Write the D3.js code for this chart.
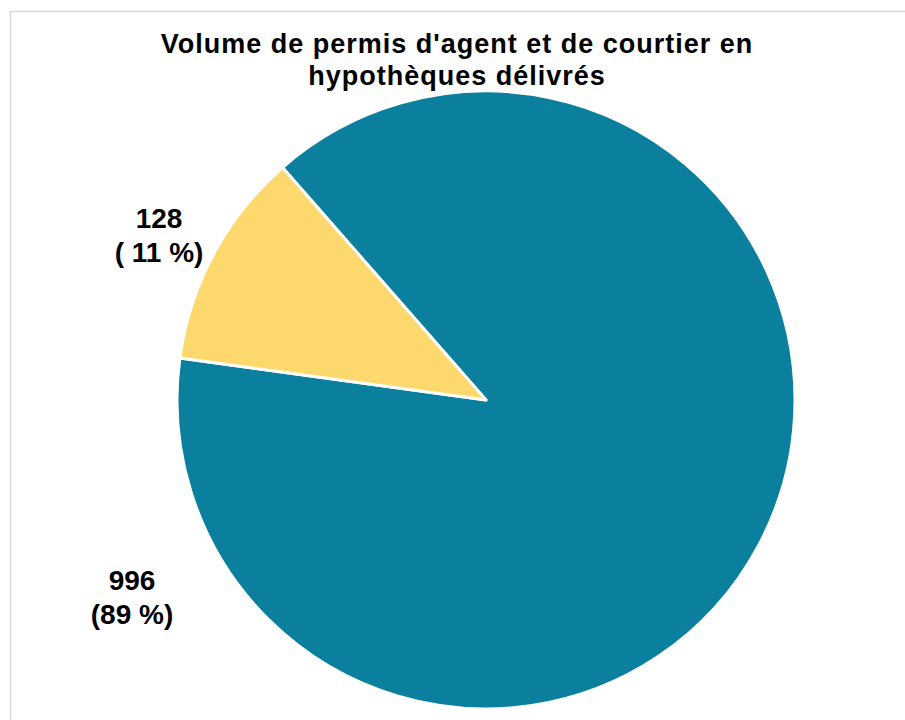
<!DOCTYPE html>
<html>
<head>
<meta charset="utf-8">
<script src="https://cdn.jsdelivr.net/npm/d3@7"></script>
<style>
  html, body { margin: 0; padding: 0; background: #fff; }
  svg { display: block; }
</style>
</head>
<body>
<svg id="chart" width="905" height="720"></svg>
<script>
const titleLines = ["Volume de permis d'agent et de courtier en", "hypothèques délivrés"];
const categories = ["Agent", "Courtier"];
const values = [996, 128];
const colors = ["#0b809e", "#fdd96d"];

const svg = d3.select("#chart");

// outer chart border (extends beyond view on right/bottom)
svg.append("rect")
  .attr("x", 10.5).attr("y", 11.5)
  .attr("width", 1000).attr("height", 1000)
  .attr("fill", "#fff")
  .attr("stroke", "#d9d9d9").attr("stroke-width", 1.5);

const cx = 486, cy = 400, R = 309;
const startDeg = -41.2;
const a0 = startDeg * Math.PI / 180;

const pie = d3.pie().sort(null).value(d => d)
  .startAngle(a0).endAngle(a0 + 2 * Math.PI);
const arcs = pie(values);
const arc = d3.arc().innerRadius(0).outerRadius(R);

const g = svg.append("g").attr("transform", `translate(${cx},${cy})`);
g.selectAll("path").data(arcs).enter().append("path")
  .attr("d", arc)
  .attr("fill", (d, i) => colors[i])
  .attr("stroke", "#fff")
  .attr("stroke-width", 3)
  .attr("stroke-linejoin", "round");

// title (drawn above the pie)
const title = svg.append("text")
  .attr("text-anchor", "middle")
  .attr("font-family", "Liberation Sans, Arial, sans-serif")
  .attr("font-weight", "bold")
  .attr("font-size", 27)
  .attr("letter-spacing", 1)
  .attr("fill", "#000");
titleLines.forEach((t, i) => {
  title.append("tspan").attr("x", 457).attr("y", 53 + i * 32).text(t);
});

const total = d3.sum(values);

// label positions (layout): offsets relative to pie centre
const labelPos = [[-354, 190], [-327, -172]];
const labelTexts = [
  [String(values[0]), "(" + Math.round(values[0] / total * 100) + " %)"],
  [String(values[1]), "( " + Math.round(values[1] / total * 100) + " %)"]
];
labelPos.forEach((p, i) => {
  const t = g.append("text")
    .attr("text-anchor", "middle")
    .attr("font-family", "Liberation Sans, Arial, sans-serif")
    .attr("font-weight", "bold")
    .attr("font-size", 28)
    .attr("fill", "#000")
    .style("white-space", "pre");
  labelTexts[i].forEach((s, j) => {
    t.append("tspan").attr("x", p[0]).attr("y", p[1] + j * 34).text(s);
  });
});
</script>
</body>
</html>
